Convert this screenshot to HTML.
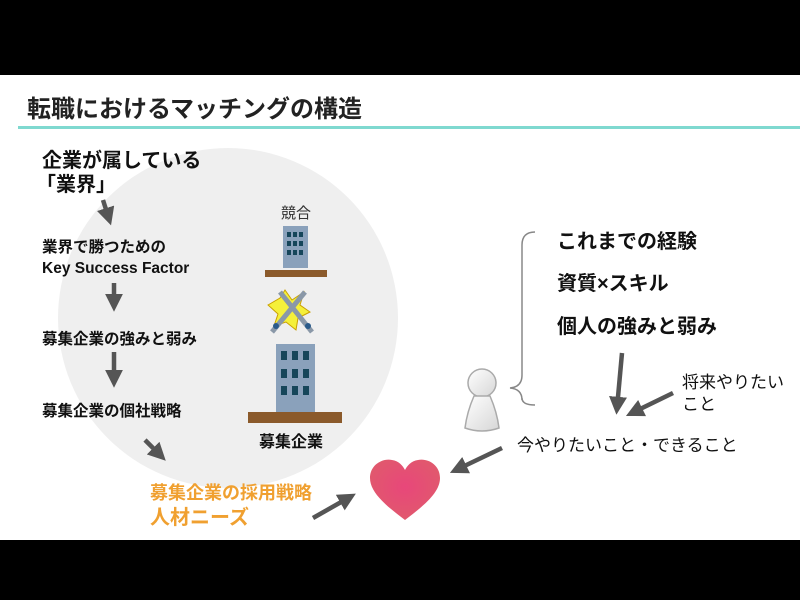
<!DOCTYPE html>
<html><head><meta charset="utf-8"><style>
body{margin:0;background:#fff;}
svg{display:block;font-family:"Liberation Sans","Noto Sans CJK JP",sans-serif;}
</style></head><body>
<svg width="800" height="600" viewBox="0 0 800 600">
<defs>
<marker id="ah" markerWidth="4" markerHeight="4" refX="2.5" refY="2" orient="auto" markerUnits="strokeWidth">
<path d="M0,0 L4,2 L0,4 z" fill="#555"/></marker>
<radialGradient id="hg" cx="0.5" cy="0.45" r="0.6"><stop offset="0" stop-color="#e8477a"/><stop offset="1" stop-color="#e05a6c"/></radialGradient>
<linearGradient id="pg" x1="0" y1="0" x2="1" y2="1"><stop offset="0" stop-color="#fff"/><stop offset="1" stop-color="#d6d6d6"/></linearGradient>
</defs>
<rect x="0" y="0" width="800" height="75" fill="#000"/>
<rect x="0" y="540" width="800" height="60" fill="#000"/>
<text x="27" y="117" font-size="24" font-weight="bold" fill="#222">転職におけるマッチングの構造</text>
<rect x="18" y="126" width="782" height="3" fill="#7fd9d0"/>
<circle cx="228" cy="318" r="170" fill="#efefef"/>
<g fill="#111" font-weight="bold">
<text x="42" y="167" font-size="20">企業が属している</text>
<text x="36" y="191" font-size="20">「業界」</text>
<text x="42" y="252" font-size="15.5">業界で勝つための</text>
<text x="42" y="273" font-size="15.5">Key Success Factor</text>
<text x="42" y="344" font-size="15.5">募集企業の強みと弱み</text>
<text x="42" y="416" font-size="15.5">募集企業の個社戦略</text>
<text x="259" y="447" font-size="16">募集企業</text>
<text x="557" y="248" font-size="20">これまでの経験</text>
<text x="557" y="290" font-size="20">資質×スキル</text>
<text x="557" y="333" font-size="20">個人の強みと弱み</text>
</g>
<g fill="#111" font-size="17">
<text x="682" y="388">将来やりたい</text>
<text x="682" y="410">こと</text>
<text x="517" y="451">今やりたいこと・できること</text>
<text x="281" y="218" font-size="15" fill="#333">競合</text>
</g>
<g fill="#f0a030" font-weight="bold">
<text x="150" y="499" font-size="18">募集企業の採用戦略</text>
<text x="150" y="524" font-size="20">人材ニーズ</text>
</g>
<g stroke="#555" stroke-width="4.5" marker-end="url(#ah)">
<line x1="103" y1="200" x2="109" y2="219"/>
<line x1="114" y1="283" x2="114" y2="305"/>
<line x1="114" y1="352" x2="114" y2="381"/>
<line x1="145" y1="440" x2="161" y2="456"/>
<line x1="313" y1="518" x2="350" y2="497"/>
<line x1="502" y1="448" x2="456" y2="470"/>
<line x1="622" y1="353" x2="617" y2="408"/>
<line x1="673" y1="393" x2="632" y2="413"/>
</g>
<rect x="283" y="226" width="25" height="42" fill="#8aa1bb"/>
<g fill="#16465a"><rect x="287" y="232" width="4" height="5"/><rect x="293" y="232" width="4" height="5"/><rect x="299" y="232" width="4" height="5"/>
<rect x="287" y="241" width="4" height="5"/><rect x="293" y="241" width="4" height="5"/><rect x="299" y="241" width="4" height="5"/>
<rect x="287" y="250" width="4" height="5"/><rect x="293" y="250" width="4" height="5"/><rect x="299" y="250" width="4" height="5"/></g>
<rect x="265" y="270" width="62" height="7" fill="#8b5a2b"/>
<polygon points="268,305 280,298 285,290 292,300 304,292 300,305 310,312 298,318 296,330 286,322 274,326 278,314" fill="#f5f03a" stroke="#caa000" stroke-width="1"/>
<line x1="272" y1="332" x2="305" y2="292" stroke="#8a98a8" stroke-width="5"/>
<line x1="312" y1="332" x2="280" y2="292" stroke="#8a98a8" stroke-width="5"/>
<circle cx="276" cy="326" r="3" fill="#2a5a8a"/><circle cx="308" cy="326" r="3" fill="#2a5a8a"/>
<rect x="276" y="344" width="39" height="70" fill="#8aa1bb"/>
<g fill="#16465a"><rect x="281" y="351" width="6" height="9"/><rect x="292" y="351" width="6" height="9"/><rect x="303" y="351" width="6" height="9"/>
<rect x="281" y="369" width="6" height="9"/><rect x="292" y="369" width="6" height="9"/><rect x="303" y="369" width="6" height="9"/>
<rect x="281" y="386" width="6" height="9"/><rect x="292" y="386" width="6" height="9"/><rect x="303" y="386" width="6" height="9"/></g>
<rect x="248" y="412" width="94" height="11" fill="#8b5a2b"/>
<path d="M405,520 C385,505 370,492 370,478 C370,465 382,458 392,460 C399,461 403,466 405,470 C407,466 411,461 418,460 C428,458 440,465 440,478 C440,492 425,505 405,520 Z" fill="url(#hg)"/>
<circle cx="482" cy="383" r="14" fill="url(#pg)" stroke="#aaa" stroke-width="1.5"/>
<path d="M474,396 Q467,412 465,428 Q482,434 499,428 Q497,412 490,396 Z" fill="url(#pg)" stroke="#aaa" stroke-width="1.5"/>
<path d="M535,232 Q522,232 522,245 L522,375 Q522,387 510,388 Q522,389 522,400 L522,398 Q522,405 535,405" fill="none" stroke="#888" stroke-width="1.5"/>
</svg>
</body></html>
